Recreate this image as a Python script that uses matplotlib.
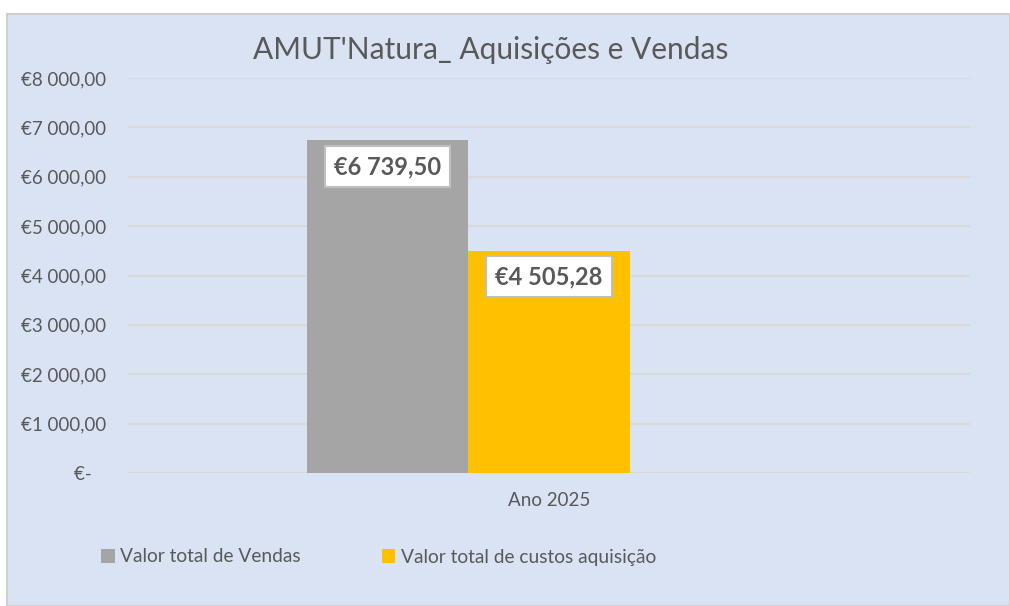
import matplotlib
matplotlib.use("Agg")
import matplotlib.pyplot as plt
from matplotlib.patches import Rectangle

# ── data ─────────────────────────────────────────────────────────────
categories = ["Ano 2025"]
series_names = ["Valor total de Vendas", "Valor total de custos aquisição", ""]
series_values = [[6739.50], [4505.28], [0.0]]
series_colors = ["#A5A5A5", "#FFC000", "none"]
value_labels = ["€6 739,50", "€4 505,28", ""]
y_ticks = [0, 1000, 2000, 3000, 4000, 5000, 6000, 7000, 8000]
y_tick_labels = ["€-   ", "€1 000,00", "€2 000,00", "€3 000,00", "€4 000,00",
                 "€5 000,00", "€6 000,00", "€7 000,00", "€8 000,00"]

TEXT = "#595959"
BG = "#DAE3F3"
W, H = 1010, 606

plt.rcParams["font.family"] = ["Lato", "DejaVu Sans"]

fig = plt.figure(figsize=(W / 100, H / 100), dpi=100)
fig.patch.set_facecolor("white")

# chart panel with light border
fig.patches.append(Rectangle((7 / W, 0), (W - 7) / W, (H - 14) / H,
                             transform=fig.transFigure, facecolor=BG,
                             edgecolor="#D0CECE", linewidth=1.5, zorder=-1))

ax = fig.add_axes([128 / W, 1 - 473 / H, (970 - 128) / W, (473 - 78) / H])
ax.set_facecolor("none")

bar_w = 0.192
n = len(series_values)
offsets = [(i - (n - 1) / 2) * bar_w for i in range(n)]
for i, (vals, col) in enumerate(zip(series_values, series_colors)):
    xs = [j + offsets[i] for j in range(len(categories))]
    bars = ax.bar(xs, vals, width=bar_w, color=col, zorder=2,
                  label=series_names[i] if series_names[i] else None)
    if value_labels[i]:
        for b in bars:
            ax.annotate(value_labels[i], (b.get_x() + b.get_width() / 2, b.get_height()),
                        xytext=(0, -19), textcoords="offset points",
                        ha="center", va="center", fontsize=17, fontweight="bold",
                        color=TEXT, zorder=4,
                        bbox=dict(boxstyle="square,pad=0.38", facecolor="white",
                                  edgecolor="#BFBFBF", linewidth=1.5))

ax.set_xlim(-0.5, len(categories) - 0.5)
ax.set_ylim(0, 8000)
ax.set_yticks(y_ticks)
ax.set_yticklabels(y_tick_labels)
ax.set_xticks(range(len(categories)))
ax.set_xticklabels(categories)
ax.tick_params(axis="both", length=0, colors=TEXT, labelsize=13.5)
ax.tick_params(axis="y", pad=16)
ax.tick_params(axis="x", pad=14)
ax.grid(axis="y", color="#D9D9D9", linewidth=1.5, zorder=1)
ax.set_axisbelow(True)
for s in ax.spines.values():
    s.set_visible(False)

fig.text(491 / W, 1 - 50 / H, "AMUT'Natura_ Aquisições e Vendas",
         ha="center", va="center", fontsize=21.5, color=TEXT)

handles, labels = ax.get_legend_handles_labels()
fig.legend(handles, labels, loc="center left", bbox_to_anchor=(84 / W, 1 - 557 / H),
           ncol=2, frameon=False, fontsize=13.8, labelcolor=TEXT,
           handlelength=0.7, handleheight=0.7, handletextpad=0.3, columnspacing=4.2)

fig.savefig("out.png", dpi=100, facecolor="white")
